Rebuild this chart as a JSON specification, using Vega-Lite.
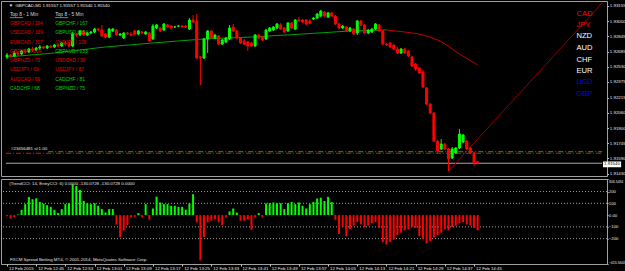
{
"$schema": "https://vega.github.io/schema/vega-lite/v6.json",
"background": "#000000",
"padding": 0,
"spacing": 1,
"config": {
  "view": {"stroke": "#a0a0a0", "strokeWidth": 1},
  "font": "Liberation Sans",
  "axis": {"labelFont": "Liberation Sans", "labelColor": "#e8e8e8", "labelFontSize": 4.4, "tickColor": "#c8c8c8", "tickSize": 1.5, "labelPadding": 0.8, "domain": false, "grid": false, "title": null, "labelOverlap": false, "tickCount": 60}
},
"datasets": {
  "candles": [
{"m":37,"o":1.92631,"h":1.92672,"l":1.92610,"c":1.92651},
{"m":38,"o":1.92651,"h":1.92662,"l":1.92621,"c":1.92641},
{"m":39,"o":1.92641,"h":1.92693,"l":1.92631,"c":1.92672},
{"m":40,"o":1.92672,"h":1.92682,"l":1.92641,"c":1.92662},
{"m":41,"o":1.92662,"h":1.92703,"l":1.92651,"c":1.92693},
{"m":42,"o":1.92693,"h":1.92713,"l":1.92662,"c":1.92682},
{"m":43,"o":1.92682,"h":1.92723,"l":1.92672,"c":1.92713},
{"m":44,"o":1.92713,"h":1.92734,"l":1.92682,"c":1.92703},
{"m":45,"o":1.92703,"h":1.92734,"l":1.92693,"c":1.92723},
{"m":46,"o":1.92723,"h":1.92754,"l":1.92703,"c":1.92734},
{"m":47,"o":1.92734,"h":1.92744,"l":1.92713,"c":1.92723},
{"m":48,"o":1.92723,"h":1.92754,"l":1.92713,"c":1.92744},
{"m":49,"o":1.92744,"h":1.92754,"l":1.92723,"c":1.92734},
{"m":50,"o":1.92734,"h":1.92764,"l":1.92723,"c":1.92754},
{"m":51,"o":1.92754,"h":1.92764,"l":1.92734,"c":1.92744},
{"m":52,"o":1.92744,"h":1.92785,"l":1.92734,"c":1.92775},
{"m":53,"o":1.92775,"h":1.92795,"l":1.92744,"c":1.92764},
{"m":54,"o":1.92764,"h":1.92785,"l":1.92734,"c":1.92744},
{"m":55,"o":1.92744,"h":1.92888,"l":1.92734,"c":1.92867},
{"m":56,"o":1.92867,"h":1.92877,"l":1.92836,"c":1.92857},
{"m":57,"o":1.92857,"h":1.92908,"l":1.92847,"c":1.92898},
{"m":58,"o":1.92898,"h":1.92908,"l":1.92847,"c":1.92857},
{"m":59,"o":1.92857,"h":1.92888,"l":1.92847,"c":1.92877},
{"m":60,"o":1.92877,"h":1.92898,"l":1.92867,"c":1.92888},
{"m":61,"o":1.92888,"h":1.92929,"l":1.92877,"c":1.92918},
{"m":62,"o":1.92918,"h":1.92929,"l":1.92898,"c":1.92908},
{"m":63,"o":1.92908,"h":1.92960,"l":1.92836,"c":1.92847},
{"m":64,"o":1.92867,"h":1.92877,"l":1.92826,"c":1.92836},
{"m":65,"o":1.92836,"h":1.92929,"l":1.92826,"c":1.92918},
{"m":66,"o":1.92898,"h":1.92929,"l":1.92888,"c":1.92918},
{"m":67,"o":1.92908,"h":1.92918,"l":1.92847,"c":1.92857},
{"m":68,"o":1.92857,"h":1.92877,"l":1.92847,"c":1.92867},
{"m":69,"o":1.92826,"h":1.92888,"l":1.92816,"c":1.92877},
{"m":70,"o":1.92877,"h":1.92888,"l":1.92857,"c":1.92867},
{"m":71,"o":1.92867,"h":1.92888,"l":1.92847,"c":1.92857},
{"m":72,"o":1.92898,"h":1.92908,"l":1.92857,"c":1.92867},
{"m":73,"o":1.92867,"h":1.92908,"l":1.92857,"c":1.92898},
{"m":74,"o":1.92888,"h":1.92898,"l":1.92867,"c":1.92877},
{"m":75,"o":1.92867,"h":1.92898,"l":1.92857,"c":1.92888},
{"m":76,"o":1.92877,"h":1.92888,"l":1.92785,"c":1.92795},
{"m":77,"o":1.92816,"h":1.92970,"l":1.92805,"c":1.92949},
{"m":78,"o":1.92929,"h":1.92970,"l":1.92918,"c":1.92960},
{"m":79,"o":1.92929,"h":1.92939,"l":1.92888,"c":1.92898},
{"m":80,"o":1.92908,"h":1.92980,"l":1.92898,"c":1.92970},
{"m":81,"o":1.92960,"h":1.92970,"l":1.92929,"c":1.92939},
{"m":82,"o":1.92949,"h":1.92960,"l":1.92908,"c":1.92929},
{"m":83,"o":1.92939,"h":1.92949,"l":1.92929,"c":1.92939},
{"m":84,"o":1.92949,"h":1.92960,"l":1.92939,"c":1.92949},
{"m":85,"o":1.92949,"h":1.92960,"l":1.92929,"c":1.92939},
{"m":86,"o":1.92949,"h":1.92960,"l":1.92929,"c":1.92939},
{"m":87,"o":1.92918,"h":1.93031,"l":1.92908,"c":1.93011},
{"m":88,"o":1.93011,"h":1.93062,"l":1.92980,"c":1.92990},
{"m":89,"o":1.93001,"h":1.93072,"l":1.92610,"c":1.92621},
{"m":90,"o":1.92631,"h":1.92641,"l":1.92343,"c":1.92621},
{"m":91,"o":1.92621,"h":1.92826,"l":1.92610,"c":1.92816},
{"m":92,"o":1.92816,"h":1.92908,"l":1.92672,"c":1.92898},
{"m":93,"o":1.92898,"h":1.92908,"l":1.92816,"c":1.92826},
{"m":94,"o":1.92826,"h":1.92867,"l":1.92816,"c":1.92857},
{"m":95,"o":1.92847,"h":1.92857,"l":1.92754,"c":1.92764},
{"m":96,"o":1.92764,"h":1.92816,"l":1.92754,"c":1.92805},
{"m":97,"o":1.92785,"h":1.92836,"l":1.92775,"c":1.92826},
{"m":98,"o":1.92816,"h":1.92960,"l":1.92805,"c":1.92929},
{"m":99,"o":1.92939,"h":1.92970,"l":1.92888,"c":1.92898},
{"m":100,"o":1.92898,"h":1.92908,"l":1.92816,"c":1.92826},
{"m":101,"o":1.92826,"h":1.92836,"l":1.92764,"c":1.92775},
{"m":102,"o":1.92795,"h":1.92816,"l":1.92754,"c":1.92764},
{"m":103,"o":1.92785,"h":1.92795,"l":1.92693,"c":1.92744},
{"m":104,"o":1.92775,"h":1.92785,"l":1.92734,"c":1.92744},
{"m":105,"o":1.92744,"h":1.92867,"l":1.92734,"c":1.92857},
{"m":106,"o":1.92857,"h":1.92867,"l":1.92816,"c":1.92826},
{"m":107,"o":1.92836,"h":1.92847,"l":1.92795,"c":1.92805},
{"m":108,"o":1.92816,"h":1.92918,"l":1.92805,"c":1.92908},
{"m":109,"o":1.92898,"h":1.92939,"l":1.92888,"c":1.92929},
{"m":110,"o":1.92908,"h":1.92949,"l":1.92898,"c":1.92939},
{"m":111,"o":1.92929,"h":1.92980,"l":1.92918,"c":1.92970},
{"m":112,"o":1.92960,"h":1.92980,"l":1.92908,"c":1.92918},
{"m":113,"o":1.92929,"h":1.92939,"l":1.92877,"c":1.92888},
{"m":114,"o":1.92898,"h":1.92990,"l":1.92888,"c":1.92980},
{"m":115,"o":1.92980,"h":1.92990,"l":1.92918,"c":1.92929},
{"m":116,"o":1.92918,"h":1.93021,"l":1.92908,"c":1.93011},
{"m":117,"o":1.93011,"h":1.93042,"l":1.92990,"c":1.93001},
{"m":118,"o":1.93011,"h":1.93021,"l":1.92980,"c":1.92990},
{"m":119,"o":1.93011,"h":1.93021,"l":1.92960,"c":1.92970},
{"m":120,"o":1.93001,"h":1.93021,"l":1.92970,"c":1.92980},
{"m":121,"o":1.93021,"h":1.93042,"l":1.93011,"c":1.93031},
{"m":122,"o":1.93031,"h":1.93083,"l":1.93021,"c":1.93072},
{"m":123,"o":1.93052,"h":1.93114,"l":1.93042,"c":1.93103},
{"m":124,"o":1.93093,"h":1.93103,"l":1.93042,"c":1.93052},
{"m":125,"o":1.93042,"h":1.93093,"l":1.93031,"c":1.93083},
{"m":126,"o":1.93083,"h":1.93093,"l":1.93042,"c":1.93052},
{"m":127,"o":1.93052,"h":1.93062,"l":1.92960,"c":1.92970},
{"m":128,"o":1.92970,"h":1.92980,"l":1.92918,"c":1.92929},
{"m":129,"o":1.92929,"h":1.92960,"l":1.92918,"c":1.92949},
{"m":130,"o":1.92939,"h":1.92949,"l":1.92888,"c":1.92898},
{"m":131,"o":1.92898,"h":1.92939,"l":1.92888,"c":1.92929},
{"m":132,"o":1.92918,"h":1.92929,"l":1.92857,"c":1.92867},
{"m":133,"o":1.92877,"h":1.93011,"l":1.92857,"c":1.93001},
{"m":134,"o":1.93001,"h":1.93011,"l":1.92949,"c":1.92960},
{"m":135,"o":1.92960,"h":1.92970,"l":1.92867,"c":1.92877},
{"m":136,"o":1.92877,"h":1.92918,"l":1.92867,"c":1.92908},
{"m":137,"o":1.92888,"h":1.92929,"l":1.92877,"c":1.92918},
{"m":138,"o":1.92918,"h":1.92980,"l":1.92908,"c":1.92970},
{"m":139,"o":1.92960,"h":1.92970,"l":1.92888,"c":1.92898},
{"m":140,"o":1.92898,"h":1.92908,"l":1.92754,"c":1.92764},
{"m":141,"o":1.92764,"h":1.92775,"l":1.92744,"c":1.92754},
{"m":142,"o":1.92775,"h":1.92785,"l":1.92723,"c":1.92734},
{"m":143,"o":1.92754,"h":1.92764,"l":1.92703,"c":1.92713},
{"m":144,"o":1.92713,"h":1.92734,"l":1.92662,"c":1.92672},
{"m":145,"o":1.92672,"h":1.92723,"l":1.92662,"c":1.92713},
{"m":146,"o":1.92713,"h":1.92723,"l":1.92662,"c":1.92672},
{"m":147,"o":1.92693,"h":1.92703,"l":1.92631,"c":1.92641},
{"m":148,"o":1.92631,"h":1.92641,"l":1.92528,"c":1.92538},
{"m":149,"o":1.92559,"h":1.92569,"l":1.92487,"c":1.92508},
{"m":150,"o":1.92518,"h":1.92528,"l":1.92456,"c":1.92467},
{"m":151,"o":1.92477,"h":1.92497,"l":1.92313,"c":1.92323},
{"m":152,"o":1.92313,"h":1.92323,"l":1.92138,"c":1.92148},
{"m":153,"o":1.92148,"h":1.92159,"l":1.92046,"c":1.92056},
{"m":154,"o":1.92056,"h":1.92066,"l":1.91758,"c":1.91768},
{"m":155,"o":1.91768,"h":1.91779,"l":1.91645,"c":1.91666},
{"m":156,"o":1.91686,"h":1.91789,"l":1.91676,"c":1.91737},
{"m":157,"o":1.91737,"h":1.91748,"l":1.91676,"c":1.91686},
{"m":158,"o":1.91686,"h":1.91696,"l":1.91460,"c":1.91583},
{"m":159,"o":1.91594,"h":1.91707,"l":1.91583,"c":1.91686},
{"m":160,"o":1.91645,"h":1.91707,"l":1.91635,"c":1.91696},
{"m":161,"o":1.91696,"h":1.91891,"l":1.91686,"c":1.91840},
{"m":162,"o":1.91758,"h":1.91840,"l":1.91748,"c":1.91830},
{"m":163,"o":1.91768,"h":1.91779,"l":1.91676,"c":1.91686},
{"m":164,"o":1.91696,"h":1.91707,"l":1.91635,"c":1.91645},
{"m":165,"o":1.91645,"h":1.91655,"l":1.91511,"c":1.91542},
{"m":166,"o":1.91557,"h":1.91557,"l":1.91540,"c":1.91540}
  ],
  "cci": [
{"m":37,"v":-10},{"m":38,"v":-30},{"m":39,"v":-20},{"m":40,"v":5},{"m":41,"v":45},{"m":42,"v":93},{"m":43,"v":154},{"m":44,"v":135},{"m":45,"v":143},{"m":46,"v":112},
{"m":47,"v":98},{"m":48,"v":84},{"m":49,"v":70},{"m":50,"v":45},{"m":51,"v":17},{"m":52,"v":50},{"m":53,"v":93},{"m":54,"v":101},{"m":55,"v":261},{"m":56,"v":247},
{"m":57,"v":213},{"m":58,"v":121},{"m":59,"v":101},{"m":60,"v":93},{"m":61,"v":101},{"m":62,"v":79},{"m":63,"v":51},{"m":64,"v":22},{"m":65,"v":51},{"m":66,"v":51},
{"m":67,"v":-81},{"m":68,"v":-188},{"m":69,"v":-132},{"m":70,"v":-84},{"m":71,"v":-20},{"m":72,"v":-15},{"m":73,"v":17},{"m":74,"v":-20},{"m":75,"v":93},{"m":76,"v":-39},
{"m":77,"v":56},{"m":78,"v":157},{"m":79,"v":107},{"m":80,"v":93},{"m":81,"v":93},{"m":82,"v":79},{"m":83,"v":79},{"m":84,"v":70},{"m":85,"v":70},{"m":86,"v":45},
{"m":87,"v":101},{"m":88,"v":177},{"m":89,"v":-62},{"m":90,"v":-385},{"m":91,"v":-188},{"m":92,"v":-62},{"m":93,"v":-48},{"m":94,"v":-34},{"m":95,"v":-62},{"m":96,"v":-84},
{"m":97,"v":-20},{"m":98,"v":31},{"m":99,"v":56},{"m":100,"v":22},{"m":101,"v":-48},{"m":102,"v":-48},{"m":103,"v":-39},{"m":104,"v":-124},{"m":105,"v":-20},{"m":106,"v":17},
{"m":107,"v":-20},{"m":108,"v":98},{"m":109,"v":101},{"m":110,"v":107},{"m":111,"v":101},{"m":112,"v":101},{"m":113,"v":51},{"m":114,"v":101},{"m":115,"v":112},{"m":116,"v":93},
{"m":117,"v":107},{"m":118,"v":79},{"m":119,"v":56},{"m":120,"v":93},{"m":121,"v":112},{"m":122,"v":140},{"m":123,"v":148},{"m":124,"v":120},{"m":125,"v":155},{"m":126,"v":110},
{"m":127,"v":-40},{"m":128,"v":-160},{"m":129,"v":-100},{"m":130,"v":-180},{"m":131,"v":-120},{"m":132,"v":-90},{"m":133,"v":-60},{"m":134,"v":-80},{"m":135,"v":-100},{"m":136,"v":-90},
{"m":137,"v":-70},{"m":138,"v":-60},{"m":139,"v":-110},{"m":140,"v":-230},{"m":141,"v":-250},{"m":142,"v":-230},{"m":143,"v":-210},{"m":144,"v":-170},{"m":145,"v":-150},{"m":146,"v":-130},
{"m":147,"v":-120},{"m":148,"v":-100},{"m":149,"v":-110},{"m":150,"v":-180},{"m":151,"v":-200},{"m":152,"v":-240},{"m":153,"v":-220},{"m":154,"v":-190},{"m":155,"v":-170},{"m":156,"v":-150},
{"m":157,"v":-120},{"m":158,"v":-130},{"m":159,"v":-100},{"m":160,"v":-90},{"m":161,"v":-70},{"m":162,"v":-60},{"m":163,"v":-80},{"m":164,"v":-90},{"m":165,"v":-110},{"m":166,"v":-130.0728}
  ],
  "ma": [
{"seg":"up","m":37,"p":1.92631},{"seg":"up","m":50,"p":1.92672},{"seg":"up","m":64,"p":1.92734},{"seg":"up","m":77,"p":1.92775},{"seg":"up","m":91,"p":1.92816},{"seg":"up","m":104,"p":1.92836},{"seg":"up","m":118,"p":1.92867},{"seg":"up","m":131,"p":1.92898},{"seg":"up","m":141,"p":1.92908},
{"seg":"down","m":141,"p":1.92908},{"seg":"down","m":146,"p":1.92888},{"seg":"down","m":150,"p":1.92867},{"seg":"down","m":153,"p":1.92836},{"seg":"down","m":156,"p":1.92790},{"seg":"down","m":161,"p":1.92662},{"seg":"down","m":166,"p":1.92549}
  ],
  "trend": [{"m":158,"p":1.9146},{"m":200.07,"p":1.93185}],
  "levels": [{"kind":"tp","m":48.3,"m2":200.07,"p":1.91658},{"kind":"sl","m":36.73,"m2":200.07,"p":1.91642}],
  "bid": [{"m":36.73,"m2":200.07,"p":1.9154}],
  "underline": [{"m":37.8,"m2":41.4,"p":1.93035},{"m":50.2,"m2":53.8,"p":1.93035}],
  "top8": [
{"m":37.8,"p":1.93062,"t":"Top 8 - 1 Min","k":"head"},
{"m":50.2,"p":1.93062,"t":"Top 8 - 5 Min","k":"head"},
{"m":37.8,"p":1.92967,"t":"GBPCAD / 194","k":"dn"},
{"m":37.8,"p":1.92874,"t":"USDCAD / 129","k":"dn"},
{"m":37.8,"p":1.92778,"t":"EURCAD / 107","k":"dn"},
{"m":37.8,"p":1.92682,"t":"GBPJPY / 104","k":"dn"},
{"m":37.8,"p":1.92587,"t":"GBPNZD / 73","k":"dn"},
{"m":37.8,"p":1.92494,"t":"USDJPY / 69","k":"dn"},
{"m":37.8,"p":1.92398,"t":"AUDCAD / 69","k":"dn"},
{"m":37.8,"p":1.92302,"t":"CADCHF / 68","k":"up"},
{"m":50.2,"p":1.92967,"t":"GBPCHF / 167","k":"up"},
{"m":50.2,"p":1.92874,"t":"GBPUSD / 154","k":"up"},
{"m":50.2,"p":1.92778,"t":"CHFJPY / 139","k":"dn"},
{"m":50.2,"p":1.92682,"t":"GBPAUD / 133","k":"up"},
{"m":50.2,"p":1.92587,"t":"USDCAD / 90","k":"dn"},
{"m":50.2,"p":1.92494,"t":"USDJPY / 87","k":"dn"},
{"m":50.2,"p":1.92398,"t":"CADCHF / 81","k":"up"},
{"m":50.2,"p":1.92302,"t":"GBPNZD / 75","k":"up"}
  ],
  "ccy": [
{"m":193.06,"p":1.93076,"t":"CAD","k":"weak"},
{"m":193.06,"p":1.92960,"t":"JPY","k":"weak"},
{"m":193.06,"p":1.92847,"t":"NZD","k":"mid"},
{"m":193.06,"p":1.92723,"t":"AUD","k":"mid"},
{"m":193.06,"p":1.92600,"t":"CHF","k":"mid"},
{"m":193.06,"p":1.92487,"t":"EUR","k":"mid"},
{"m":193.06,"p":1.92374,"t":"USD","k":"strong"},
{"m":193.06,"p":1.92251,"t":"GBP","k":"strong"}
  ],
  "hdr": [
{"m":37.5,"p":1.93155,"t":"\u25bc"},
{"m":39.3,"p":1.93155,"t":"GBPCAD,M1  1.91557 1.91557 1.91540 1.91540"},
{"m":38.1,"p":1.91683,"t":"#23456481 sl:1.00"}
  ],
  "bidbox": [{"m":200.35,"m2":205.3,"p":1.91558,"p2":1.91499,"t":"1.91540","pt":1.91528}],
  "ccilevels": [{"v":200},{"v":100},{"v":-100},{"v":-200}],
  "ccitext": [
{"m":37.6,"v":268,"t":"(TrendCCI: 14, EntryCCI: 6)  0.0000 -130.0728 -130.0728 0.0000"},
{"m":37.8,"v":-382,"t":"FXCM Spread Betting MT4, \u00a9 2001-2014, MetaQuotes Software Corp."}
  ]
},
"vconcat": [
 {
  "width": 606,
  "height": 175,
  "resolve": {"scale": {"color": "independent"}},
  "layer": [
   {
    "data": {"name": "bid"},
    "mark": {"type": "rule", "color": "#a8a8a8", "strokeWidth": 1},
    "encoding": {
      "x": {"field": "m", "type": "quantitative", "scale": {"domain": [36.73, 200.07], "nice": false, "zero": false}, "axis": null},
      "x2": {"field": "m2"},
      "y": {"field": "p", "type": "quantitative", "scale": {"domain": [1.91409, 1.93206], "nice": false, "zero": false},
            "axis": {"orient": "right", "labelOverlap": false, "tickCount": 60, "values": [1.93155, 1.93000, 1.92845, 1.92685, 1.92530, 1.92375, 1.92215, 1.92060, 1.91900, 1.91745, 1.91590, 1.91430], "format": ".5f"}}
    }
   },
   {
    "data": {"name": "ma"},
    "mark": {"type": "line", "strokeWidth": 1},
    "encoding": {
      "x": {"field": "m", "type": "quantitative"},
      "y": {"field": "p", "type": "quantitative"},
      "color": {"field": "seg", "type": "nominal", "scale": {"domain": ["up", "down"], "range": ["#00a000", "#c00000"]}, "legend": null}
    }
   },
   {
    "data": {"name": "trend"},
    "mark": {"type": "line", "strokeWidth": 1, "color": "#900000"},
    "encoding": {
      "x": {"field": "m", "type": "quantitative"},
      "y": {"field": "p", "type": "quantitative"}
    }
   },
   {
    "data": {"name": "levels"},
    "mark": {"type": "rule", "strokeWidth": 1, "strokeDash": [5, 2, 1, 2]},
    "encoding": {
      "x": {"field": "m", "type": "quantitative"},
      "x2": {"field": "m2"},
      "y": {"field": "p", "type": "quantitative"},
      "color": {"field": "kind", "type": "nominal", "scale": {"domain": ["tp", "sl"], "range": ["#00c000", "#ff0000"]}, "legend": null}
    }
   },
   {
    "data": {"name": "candles"},
    "mark": {"type": "rule", "strokeWidth": 1},
    "encoding": {
      "x": {"field": "m", "type": "quantitative"},
      "y": {"field": "l", "type": "quantitative"},
      "y2": {"field": "h"},
      "color": {"condition": {"test": "datum.c >= datum.o", "value": "#00ff00"}, "value": "#ff0000"}
    }
   },
   {
    "data": {"name": "candles"},
    "mark": {"type": "bar", "width": 2, "strokeWidth": 1},
    "encoding": {
      "x": {"field": "m", "type": "quantitative"},
      "y": {"field": "o", "type": "quantitative"},
      "y2": {"field": "c"},
      "color": {"condition": {"test": "datum.c >= datum.o", "value": "#00ff00"}, "value": "#ff0000"},
      "stroke": {"condition": {"test": "datum.c >= datum.o", "value": "#00ff00"}, "value": "#ff0000"}
    }
   },
   {
    "data": {"name": "underline"},
    "mark": {"type": "rule", "strokeWidth": 0.6, "color": "#d8d8d8"},
    "encoding": {
      "x": {"field": "m", "type": "quantitative"},
      "x2": {"field": "m2"},
      "y": {"field": "p", "type": "quantitative"}
    }
   },
   {
    "data": {"name": "top8"},
    "mark": {"type": "text", "align": "left", "baseline": "middle", "fontSize": 4.9},
    "encoding": {
      "x": {"field": "m", "type": "quantitative"},
      "y": {"field": "p", "type": "quantitative"},
      "text": {"field": "t"},
      "color": {"field": "k", "type": "nominal", "scale": {"domain": ["head", "dn", "up"], "range": ["#d8d8d8", "#e00000", "#00d000"]}, "legend": null}
    }
   },
   {
    "data": {"name": "ccy"},
    "mark": {"type": "text", "align": "left", "baseline": "middle", "fontSize": 7.6},
    "encoding": {
      "x": {"field": "m", "type": "quantitative"},
      "y": {"field": "p", "type": "quantitative"},
      "text": {"field": "t"},
      "color": {"field": "k", "type": "nominal", "scale": {"domain": ["weak", "mid", "strong"], "range": ["#ff0000", "#ffffff", "#0000ff"]}, "legend": null}
    }
   },
   {
    "data": {"name": "hdr"},
    "mark": {"type": "text", "align": "left", "baseline": "middle", "fontSize": 4.4, "color": "#e8e8e8"},
    "encoding": {
      "x": {"field": "m", "type": "quantitative"},
      "y": {"field": "p", "type": "quantitative"},
      "text": {"field": "t"}
    }
   },
   {
    "data": {"name": "bidbox"},
    "mark": {"type": "rect", "color": "#ffffff"},
    "encoding": {
      "x": {"field": "m", "type": "quantitative"},
      "x2": {"field": "m2"},
      "y": {"field": "p", "type": "quantitative"},
      "y2": {"field": "p2"}
    }
   },
   {
    "data": {"name": "bidbox"},
    "mark": {"type": "text", "align": "left", "baseline": "middle", "fontSize": 4.4, "color": "#000000", "dx": 1},
    "encoding": {
      "x": {"field": "m", "type": "quantitative"},
      "y": {"field": "pt", "type": "quantitative"},
      "text": {"field": "t"}
    }
   }
  ]
 },
 {
  "width": 606,
  "height": 85,
  "layer": [
   {
    "data": {"name": "ccilevels"},
    "mark": {"type": "rule", "color": "#a0a0a0", "strokeWidth": 1, "strokeDash": [1, 2]},
    "encoding": {
      "y": {"field": "v", "type": "quantitative", "scale": {"domain": [-415.5643, 306.5451], "nice": false, "zero": false},
            "axis": {"orient": "right", "labelOverlap": false, "tickCount": 60, "values": [306.5451, 200, 100, 0, -100, -200, -415.5643], "labelFlush": true, "labelPadding": 0.3, "tickSize": 1,
                     "labelFontSize": {"condition": {"test": "abs(datum.value) > 300", "value": 3.55}, "value": 4.3},
                     "labelExpr": "datum.value == 0 ? '0.00' : (abs(datum.value) > 300 ? format(datum.value, '.4f') : format(datum.value, 'd'))"}}
    }
   },
   {
    "data": {"name": "cci"},
    "mark": {"type": "bar", "width": 2},
    "encoding": {
      "x": {"field": "m", "type": "quantitative", "scale": {"domain": [36.73, 200.07], "nice": false, "zero": false},
            "axis": {"orient": "bottom", "labelOverlap": false, "tickCount": 60, "values": [37, 45, 53, 61, 69, 77, 85, 93, 101, 109, 117, 125, 133, 141, 149, 157, 165],
                     "labelAlign": "left", "labelOffset": 1.5, "tickSize": 2, "labelPadding": 0.5,
                     "labelExpr": "datum.value == 37 ? '12 Feb 2015' : '12 Feb ' + (12 + floor(datum.value / 60)) + ':' + (datum.value % 60 < 10 ? '0' : '') + (datum.value % 60)"}},
      "y": {"field": "v", "type": "quantitative"},
      "y2": {"datum": 0},
      "color": {"condition": {"test": "datum.v >= 0", "value": "#00ff00"}, "value": "#ff0000"}
    }
   },
   {
    "data": {"name": "ccitext"},
    "mark": {"type": "text", "align": "left", "baseline": "middle", "fontSize": 4.4, "color": "#e0e0e0"},
    "encoding": {
      "x": {"field": "m", "type": "quantitative"},
      "y": {"field": "v", "type": "quantitative"},
      "text": {"field": "t"}
    }
   }
  ]
 }
]
}
